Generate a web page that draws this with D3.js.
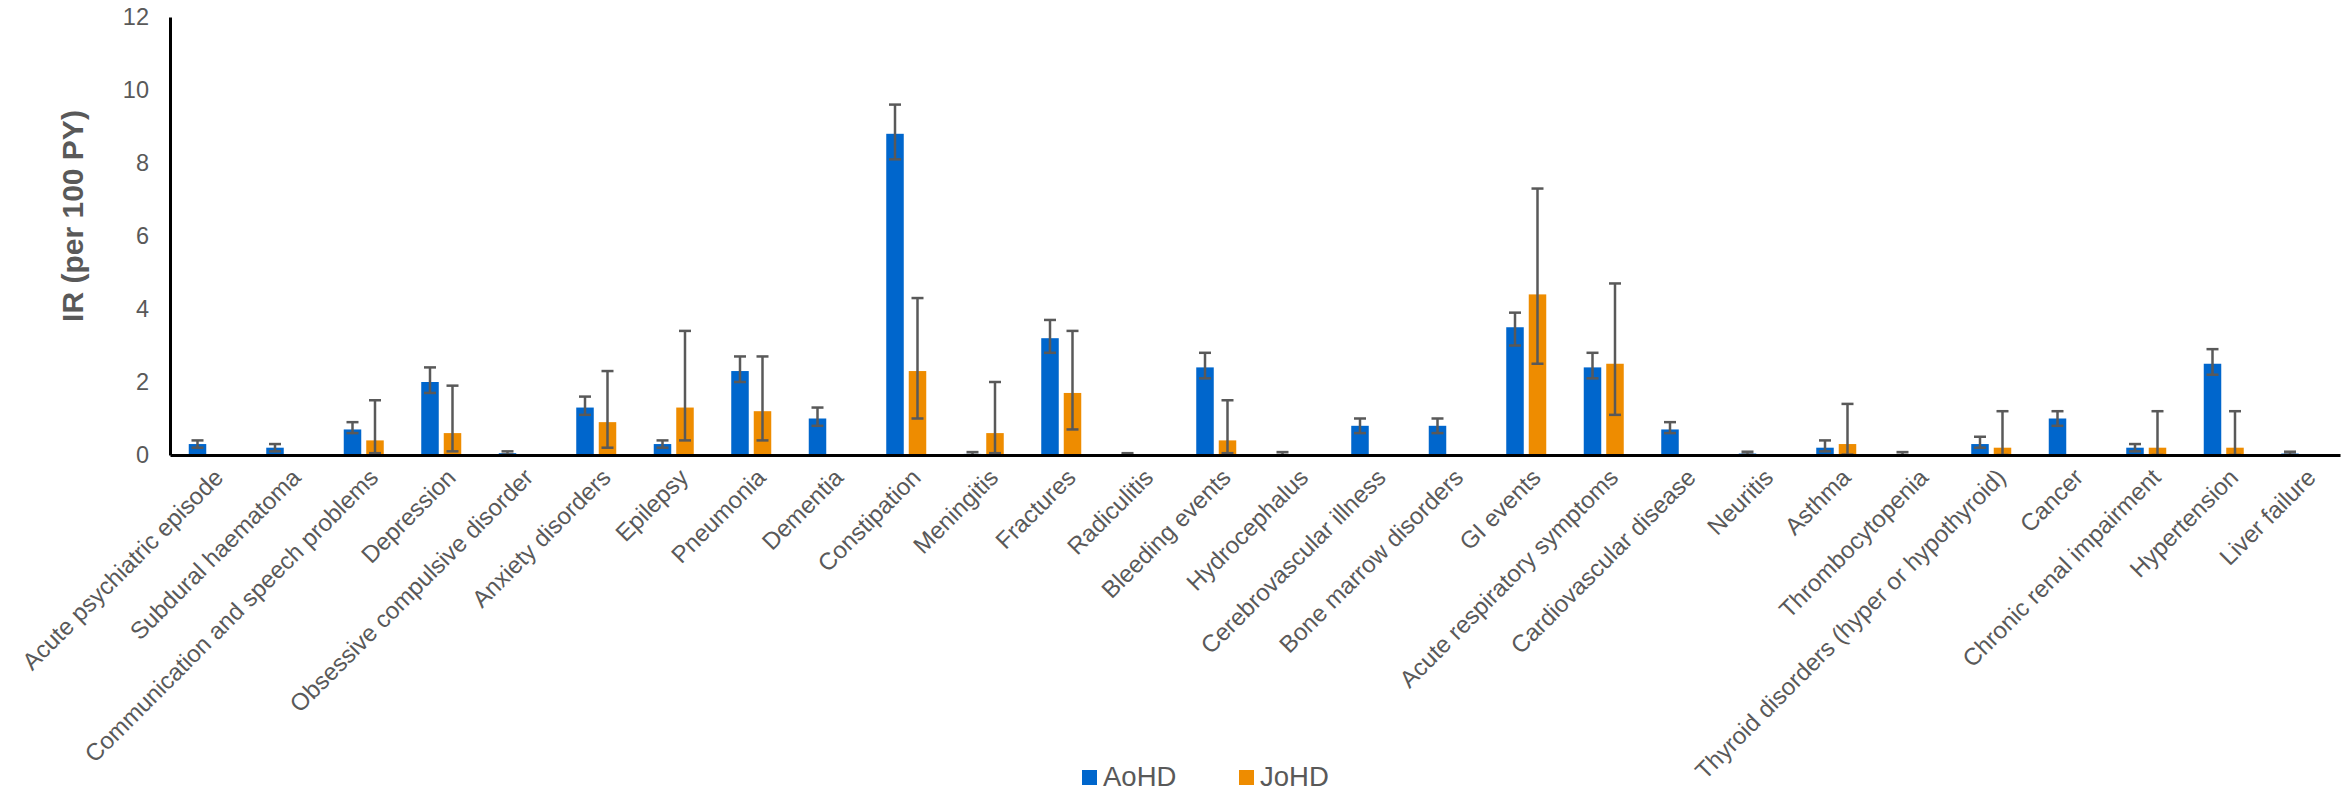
<!DOCTYPE html>
<html>
<head>
<meta charset="UTF-8">
<title></title>
<style>
  body { margin: 0; background: #fff; }
  text { font-family: Arial, "Liberation Sans", sans-serif; }
</style>
</head>
<body>
<div id="chart"></div>
<script src="https://d3js.org/d3.v7.min.js"></script>
<script>
// categories
var categories = ["Acute psychiatric episode", "Subdural haematoma", "Communication and speech problems",
  "Depression", "Obsessive compulsive disorder", "Anxiety disorders", "Epilepsy", "Pneumonia", "Dementia",
  "Constipation", "Meningitis", "Fractures", "Radiculitis", "Bleeding events", "Hydrocephalus",
  "Cerebrovascular illness", "Bone marrow disorders", "GI events", "Acute respiratory symptoms",
  "Cardiovascular disease", "Neuritis", "Asthma", "Thrombocytopenia", "Thyroid disorders (hyper or hypothyroid)",
  "Cancer", "Chronic renal impairment", "Hypertension", "Liver failure"];

var seriesNames = ["AoHD", "JoHD"];

// AoHD
var aohd     = [0.3, 0.2, 0.7, 2.0, 0.05, 1.3, 0.3, 2.3, 1.0, 8.8, 0.03, 3.2, 0.02, 2.4, 0.02, 0.8, 0.8, 3.5, 2.4, 0.7, 0.04, 0.2, 0.01, 0.3, 1.0, 0.2, 2.5, 0.04];
var aohdLow  = [0.2, 0.1, 0.6, 1.7, 0.01, 1.1, 0.2, 2.0, 0.8, 8.1, 0.0, 2.8, 0.0, 2.1, 0.0, 0.6, 0.6, 3.0, 2.1, 0.6, 0.01, 0.1, 0.0, 0.2, 0.8, 0.1, 2.2, 0.01];
var aohdHigh = [0.4, 0.3, 0.9, 2.4, 0.1, 1.6, 0.4, 2.7, 1.3, 9.6, 0.08, 3.7, 0.05, 2.8, 0.08, 1.0, 1.0, 3.9, 2.8, 0.9, 0.09, 0.4, 0.08, 0.5, 1.2, 0.3, 2.9, 0.09];

// JoHD (null = no event)
var johd     = [null, null, 0.4, 0.6, null, 0.9, 1.3, 1.2, null, 2.3, 0.6, 1.7, null, 0.4, null, null, null, 4.4, 2.5, null, null, 0.3, null, 0.2, null, 0.2, 0.2, null];
var johdLow  = [null, null, 0.05, 0.1, null, 0.2, 0.4, 0.4, null, 1.0, 0.05, 0.7, null, 0.05, null, null, null, 2.5, 1.1, null, null, 0.01, null, 0.0, null, 0.0, 0.0, null];
var johdHigh = [null, null, 1.5, 1.9, null, 2.3, 3.4, 2.7, null, 4.3, 2.0, 3.4, null, 1.5, null, null, null, 7.3, 4.7, null, null, 1.4, null, 1.2, null, 1.2, 1.2, null];

var yTicks = [0, 2, 4, 6, 8, 10, 12];

var width = 2351, height = 793;
var colors = { AoHD: "#0066CC", JoHD: "#EE8C00" };
var textColor = "#595959";

var svg = d3.select("#chart").append("svg")
  .attr("width", width).attr("height", height);

var x = d3.scaleBand().domain(categories).range([170, 2340]).padding(0);
var xs = d3.scaleBand().domain(seriesNames).range([-20, 20]).paddingInner(0.222);
var y = d3.scaleLinear().domain([0, 12]).range([455, 17]);

// rows
var rows = [];
categories.forEach(function(c, i) {
  rows.push({ cat: c, s: "AoHD", v: aohd[i], lo: aohdLow[i], hi: aohdHigh[i] });
  if (johd[i] !== null) rows.push({ cat: c, s: "JoHD", v: johd[i], lo: johdLow[i], hi: johdHigh[i] });
});

var cx = function(d) { return x(d.cat) + x.bandwidth() / 2; };

// bars
svg.append("g").selectAll("rect")
  .data(rows)
  .join("rect")
  .attr("x", function(d) { return cx(d) + xs(d.s); })
  .attr("y", function(d) { return y(d.v); })
  .attr("width", xs.bandwidth())
  .attr("height", function(d) { return y(0) - y(d.v); })
  .attr("fill", function(d) { return colors[d.s]; });

// error bars
var eb = svg.append("g").attr("stroke", textColor).attr("stroke-width", 2.5).attr("fill", "none");
rows.forEach(function(d) {
  var mx = cx(d) + xs(d.s) + xs.bandwidth() / 2;
  eb.append("line").attr("x1", mx).attr("x2", mx).attr("y1", y(d.lo)).attr("y2", y(d.hi));
  eb.append("line").attr("x1", mx - 6).attr("x2", mx + 6).attr("y1", y(d.hi)).attr("y2", y(d.hi));
  eb.append("line").attr("x1", mx - 6).attr("x2", mx + 6).attr("y1", y(d.lo)).attr("y2", y(d.lo));
});

// y axis
var yAxis = d3.axisLeft(y).tickValues(yTicks).tickSize(0).tickPadding(21);
var gy = svg.append("g").attr("transform", "translate(170,0)").call(yAxis);
gy.select(".domain").attr("stroke", "#000").attr("stroke-width", 3);
gy.selectAll("text").attr("font-size", "23.5px").attr("fill", textColor)
  .attr("font-family", "Arial, 'Liberation Sans', sans-serif");

// x axis
var xAxis = d3.axisBottom(x).tickSize(0).tickFormat("");
var gx = svg.append("g").attr("transform", "translate(0,455)").call(xAxis);
gx.select(".domain").attr("stroke", "#000").attr("stroke-width", 3);

// category labels
svg.append("g").selectAll("text")
  .data(categories)
  .join("text")
  .attr("transform", function(d) {
    return "translate(" + (x(d) + x.bandwidth() / 2 + 10) + ",473) rotate(-45)";
  })
  .attr("text-anchor", "end")
  .attr("dy", "0.35em")
  .attr("font-size", "24px")
  .attr("fill", textColor)
  .text(function(d) { return d; });

// y title
svg.append("text")
  .attr("transform", "translate(83,216) rotate(-90)")
  .attr("text-anchor", "middle")
  .attr("font-size", "30px")
  .attr("font-weight", "bold")
  .attr("fill", textColor)
  .text("IR (per 100 PY)");

// legend
var legend = svg.append("g").selectAll("g")
  .data(seriesNames)
  .join("g")
  .attr("transform", function(d, i) { return "translate(" + (1082 + i * 157) + ",770)"; });
legend.append("rect").attr("width", 15).attr("height", 15)
  .attr("fill", function(d) { return colors[d]; });
legend.append("text").attr("x", 21).attr("y", 16)
  .attr("font-size", "27.5px").attr("fill", textColor)
  .text(function(d) { return d; });
</script>
</body>
</html>
